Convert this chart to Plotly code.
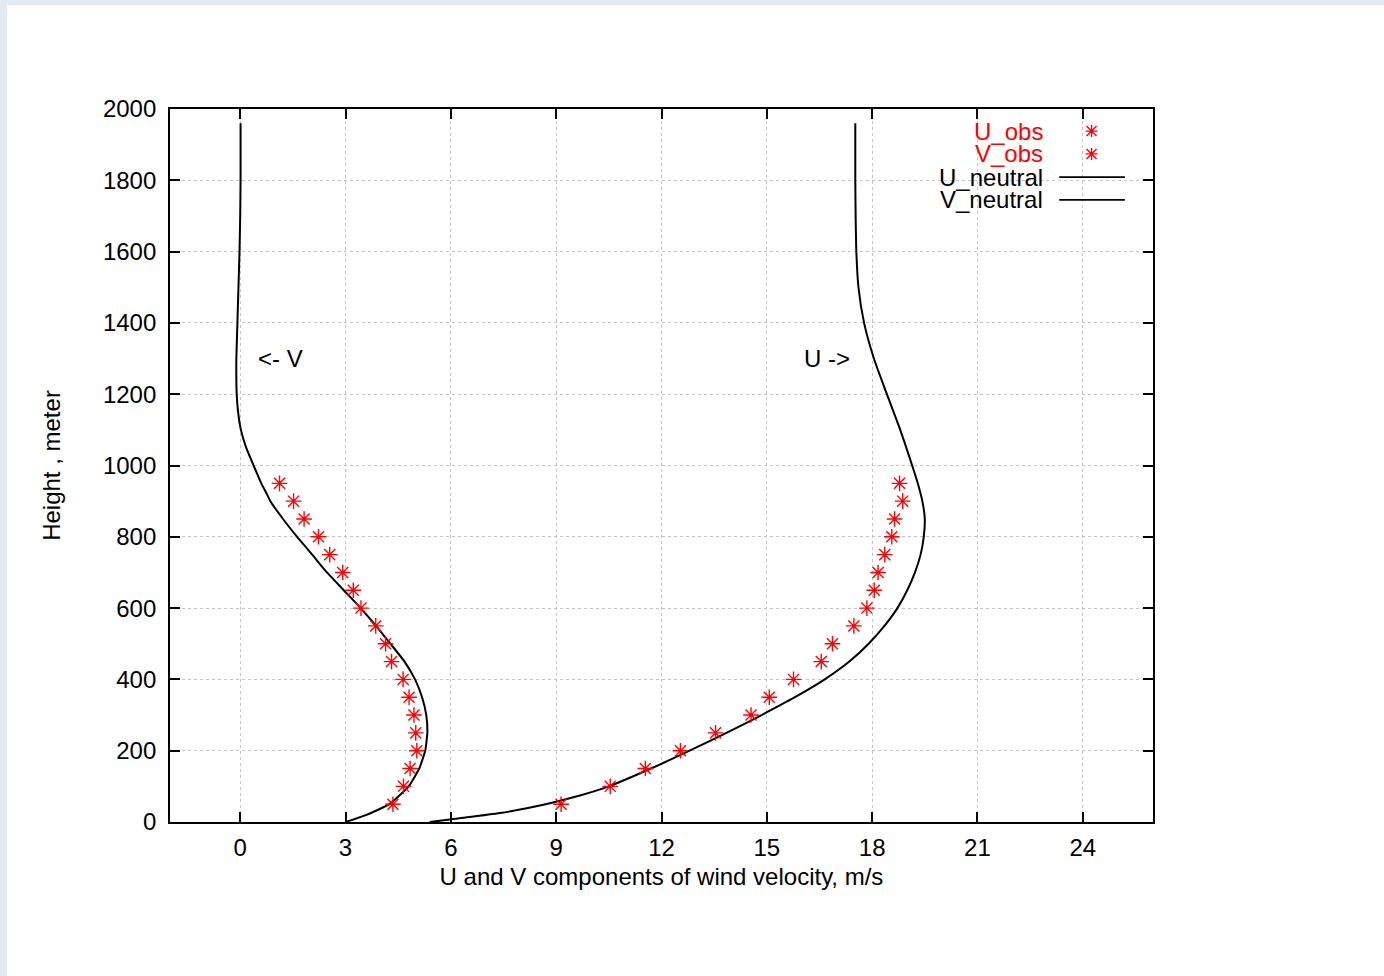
import plotly.graph_objects as go

# ---- data ----
obs_heights = [50, 100, 150, 200, 250, 300, 350, 400, 450, 500,
               550, 600, 650, 700, 750, 800, 850, 900, 950]
u_obs = [9.14, 10.54, 11.54, 12.54, 13.54, 14.55, 15.07, 15.76, 16.55, 16.87,
         17.48, 17.85, 18.06, 18.17, 18.36, 18.56, 18.64, 18.87, 18.78]
v_obs = [4.35, 4.65, 4.84, 5.03, 5.00, 4.95, 4.81, 4.64, 4.31, 4.14,
         3.86, 3.44, 3.22, 2.92, 2.55, 2.23, 1.82, 1.52, 1.12]

u_heights = [0, 10, 25, 50, 75, 100, 150, 200, 250, 300, 350, 400, 450, 500,
             550, 600, 650, 700, 750, 800, 850, 900, 950, 1000, 1100, 1200,
             1300, 1400, 1500, 1600, 1700, 1800, 1960]
u_neutral = [5.4, 6.2, 7.4, 8.7, 9.7, 10.5, 11.7, 12.8, 13.85, 14.85, 15.8, 16.65, 17.35, 17.9,
             18.35, 18.72, 19.0, 19.22, 19.38, 19.47, 19.5, 19.43, 19.3, 19.14, 18.8, 18.42,
             18.05, 17.77, 17.61, 17.55, 17.53, 17.52, 17.52]

v_heights = [0, 20, 50, 100, 150, 200, 250, 300, 350, 400, 450, 500, 550, 600,
             650, 700, 750, 800, 850, 900, 920, 950, 1000, 1050, 1100, 1150, 1200,
             1300, 1400, 1500, 1600, 1700, 1800, 1960]
v_neutral = [3.0, 3.6, 4.25, 4.8, 5.1, 5.27, 5.33, 5.3, 5.18, 4.98, 4.68, 4.28, 3.87, 3.43,
             2.95, 2.47, 2.05, 1.62, 1.22, 0.86, 0.76, 0.6, 0.38, 0.17, 0.02, -0.06, -0.1,
             -0.11, -0.08, -0.05, -0.02, 0.0, 0.01, 0.01]

x_ticks = [0, 3, 6, 9, 12, 15, 18, 21, 24]
y_ticks = [0, 200, 400, 600, 800, 1000, 1200, 1400, 1600, 1800, 2000]

legend_names = ["U_obs", "V_obs", "U_neutral", "V_neutral"]
legend_colors = ["#ff0000", "#ff0000", "#000000", "#000000"]
legend_y = [1938, 1874, 1809, 1745]

FONT = "Liberation Sans, Arial, Helvetica, sans-serif"
FS = 24

fig = go.Figure()

marker = dict(symbol="asterisk-open", size=13, color="#ff0000",
              line=dict(color="#ff0000", width=1.4))

fig.add_trace(go.Scatter(x=u_neutral, y=u_heights, mode="lines",
                         line=dict(color="black", width=2, shape="spline", smoothing=0.6),
                         name="U_neutral"))
fig.add_trace(go.Scatter(x=v_neutral, y=v_heights, mode="lines",
                         line=dict(color="black", width=2, shape="spline", smoothing=0.4),
                         name="V_neutral"))
fig.add_trace(go.Scatter(x=u_obs, y=obs_heights, mode="markers", marker=marker, name="U_obs"))
fig.add_trace(go.Scatter(x=v_obs, y=obs_heights, mode="markers", marker=marker, name="V_obs"))

annotations = []
shapes = []

# custom gnuplot-style key (text right-aligned, sample on the right)
for name, col, yy in zip(legend_names, legend_colors, legend_y):
    annotations.append(dict(x=22.9, y=yy, xref="x", yref="y", text=name, showarrow=False,
                            xanchor="right", yanchor="middle", borderpad=0,
                            font=dict(family=FONT, size=FS, color=col)))
    if name.endswith("obs"):
        shapes.append(dict(type="path", xref="x", yref="y", xsizemode="pixel", ysizemode="pixel",
                           xanchor=24.25, yanchor=yy,
                           path="M -6 0 L 6 0 M 0 -6 L 0 6 M -5 -5 L 5 5 M -5 5 L 5 -5",
                           line=dict(color="#ff0000", width=1.4)))
    else:
        shapes.append(dict(type="line", xref="x", yref="y", x0=23.33, x1=25.2, y0=yy, y1=yy,
                           line=dict(color="black", width=1.6)))

annotations.append(dict(x=1.15, y=1300, xref="x", yref="y", text="&lt;- V", showarrow=False,
                        font=dict(family=FONT, size=FS, color="black")))
annotations.append(dict(x=16.7, y=1300, xref="x", yref="y", text="U -&gt;", showarrow=False,
                        font=dict(family=FONT, size=FS, color="black")))

# light-blue page frame strips (top and left)
W, H = 1384, 976
ml, mr, mt, mb = 170, 231, 109, 154
pw, ph = W - ml - mr, H - mt - mb
shapes.append(dict(type="rect", xref="paper", yref="paper", layer="below",
                   x0=-ml / pw, x1=(W - ml) / pw, y0=1 + (mt - 5) / ph, y1=1 + mt / ph,
                   fillcolor="#e2eaf4", line=dict(width=0)))
shapes.append(dict(type="rect", xref="paper", yref="paper", layer="below",
                   x0=-ml / pw, x1=-(ml - 7) / pw, y0=-mb / ph, y1=1 + mt / ph,
                   fillcolor="#e2eaf4", line=dict(width=0)))

fig.update_layout(
    width=W, height=H,
    margin=dict(l=ml, r=mr, t=mt, b=mb, pad=0),
    paper_bgcolor="white", plot_bgcolor="white",
    showlegend=False,
    font=dict(family=FONT, size=FS, color="black"),
    annotations=annotations, shapes=shapes,
)
fig.update_xaxes(range=[-2, 26], tickvals=x_ticks, ticktext=[str(v) for v in x_ticks],
                 showline=True, linecolor="black", linewidth=1.8, mirror="allticks",
                 ticks="inside", ticklen=10, tickwidth=1.5, tickcolor="black",
                 showgrid=True, gridcolor="#c4c4c4", griddash="dot", gridwidth=1,
                 zeroline=False, ticklabelstandoff=3,
                 title=dict(text="U and V components of wind velocity, m/s",
                            font=dict(family=FONT, size=FS), standoff=8))
fig.update_yaxes(range=[0, 2000], tickvals=y_ticks, ticktext=[str(v) for v in y_ticks],
                 showline=True, linecolor="black", linewidth=1.8, mirror="allticks",
                 ticks="inside", ticklen=10, tickwidth=1.5, tickcolor="black",
                 showgrid=True, gridcolor="#c4c4c4", griddash="dot", gridwidth=1,
                 zeroline=False, ticklabelstandoff=7,
                 title=dict(text="Height , meter", font=dict(family=FONT, size=FS), standoff=36))

fig.write_html("out.html")
